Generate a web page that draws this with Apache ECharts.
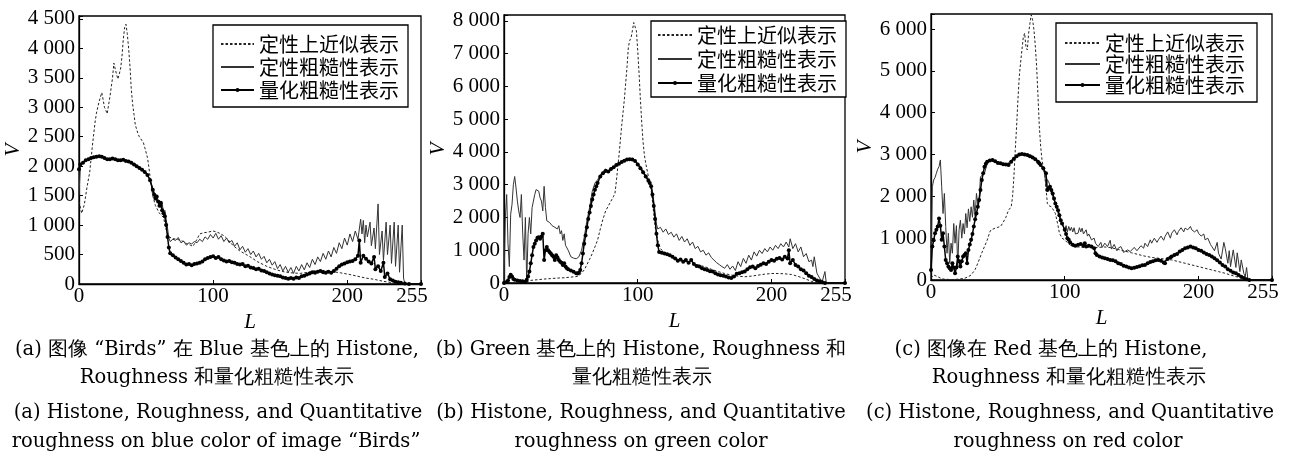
<!DOCTYPE html>
<html>
<head>
<meta charset="utf-8">
<script src="https://cdn.jsdelivr.net/npm/echarts@6/dist/echarts.min.js"></script>
<style>
html, body { margin: 0; padding: 0; background: #fff; }
#main { width: 1299px; height: 461px; }
</style>
</head>
<body>
<div id="main"></div>
<script>
// 图例名称
var names = ['定性上近似表示', '定性粗糙性表示', '量化粗糙性表示'];

// (a) Blue 数据 [L, V]
var histA = [[0,1400],[2,1200],[4,1350],[6,1650],[8,1900],[10,2350],[12,2750],[13,2900],[15,3100],[17,3250],[19,3000],[20,2950],[21,2890],[23,3170],[25,3500],[26,3750],[27,3650],[28,3560],[29,3480],[30,3450],[31,3650],[32,3850],[33,4150],[34,4350],[35,4410],[36,4250],[37,4000],[38,3700],[39,3300],[40,3050],[41,2880],[42,2700],[44,2550],[45,2500],[46,2480],[48,2400],[49,2320],[51,2150],[52,2000],[53,1820],[55,1500],[57,1330],[60,1200],[63,1130],[65,920],[67,800],[70,770],[73,760],[75,745],[78,720],[80,690],[83,660],[85,640],[88,760],[90,850],[93,870],[96,880],[100,900],[103,880],[105,860],[108,820],[110,780],[115,650],[120,560],[127,470],[133,380],[140,300],[146,250],[152,210],[158,190],[165,180],[171,200],[177,230],[183,230],[189,210],[195,190],[202,160],[208,130],[214,100],[220,80],[227,45],[233,25],[240,5],[245,0],[255,0]];
var roughA = [[0,1500],[1,2000],[2,2060],[5,2090],[8,2120],[11,2140],[14,2160],[17,2150],[20,2130],[23,2120],[26,2130],[29,2110],[32,2100],[35,2100],[38,2080],[41,2040],[44,2000],[47,1960],[50,1900],[52,1820],[54,1700],[56,1560],[57,1480],[58,1520],[59,1380],[60,1420],[61,1300],[62,1380],[63,1200],[64,1250],[65,1100],[66,950],[67,780],[68,720],[70,760],[72,740],[74,790],[76,700],[78,730],[80,660],[82,700],[84,680],[86,720],[88,700],[90,760],[92,720],[94,800],[96,760],[98,840],[100,780],[102,860],[104,760],[106,820],[108,720],[110,780],[112,700],[114,740],[116,640],[118,700],[120,580],[122,640],[124,540],[126,600],[128,500],[130,560],[132,460],[134,520],[136,420],[138,470],[140,360],[142,420],[144,320],[146,380],[148,260],[150,330],[152,220],[154,300],[156,200],[158,280],[160,180],[162,300],[164,220],[166,330],[168,240],[170,360],[172,280],[174,420],[176,330],[178,460],[180,380],[182,520],[184,420],[186,560],[188,460],[190,620],[192,520],[194,700],[196,600],[198,780],[200,660],[202,850],[204,720],[206,900],[208,760],[210,1100],[211,850],[212,1080],[213,700],[214,1000],[215,800],[217,1050],[218,650],[220,950],[221,600],[223,1360],[224,500],[226,900],[227,400],[229,1050],[230,500],[232,1000],[233,350],[235,1050],[236,300],[238,1000],[239,200],[241,1000],[242,100],[243,0],[255,0]];
var quantA = [[0,1950],[1,2030],[3,2060],[5,2100],[7,2120],[9,2140],[11,2150],[13,2160],[15,2170],[17,2160],[19,2140],[21,2120],[23,2120],[25,2130],[27,2120],[29,2100],[31,2100],[33,2110],[35,2090],[37,2080],[39,2060],[41,2030],[43,2000],[45,1970],[47,1940],[49,1900],[51,1850],[53,1760],[55,1600],[56,1520],[57,1450],[58,1480],[59,1400],[60,1330],[61,1380],[62,1250],[63,1200],[64,1150],[65,1000],[66,800],[67,620],[68,520],[70,490],[72,450],[74,420],[76,390],[78,360],[80,330],[82,340],[84,320],[86,340],[88,350],[90,360],[92,380],[94,420],[96,440],[98,460],[100,470],[102,440],[104,460],[106,420],[108,400],[110,380],[112,390],[114,370],[116,360],[118,340],[120,330],[122,340],[124,300],[126,310],[128,280],[130,270],[132,250],[134,260],[136,230],[138,220],[140,200],[142,180],[144,160],[146,150],[148,140],[150,130],[152,110],[154,100],[156,90],[158,100],[160,90],[162,110],[164,100],[166,130],[168,140],[170,160],[172,180],[174,200],[176,190],[178,210],[180,220],[182,200],[184,190],[186,210],[188,190],[190,220],[192,260],[194,300],[196,330],[198,350],[200,370],[202,380],[204,390],[206,420],[208,480],[209,740],[210,360],[212,480],[214,430],[216,380],[218,350],[220,460],[221,250],[223,300],[225,220],[227,360],[228,120],[230,180],[232,80],[234,60],[236,40],[238,30],[240,20],[243,10],[246,0],[255,0]];

// (b) Green 数据
var histB = [[0,0],[10,0],[15,0],[18,50],[20,80],[25,100],[30,120],[35,135],[40,150],[45,160],[50,180],[55,200],[58,300],[60,400],[62,560],[64,720],[66,900],[68,1100],[70,1310],[72,1650],[74,1950],[76,2200],[78,2350],[80,2500],[82,2650],[83,2740],[84,3100],[86,3900],[88,4800],[90,5600],[92,6600],[93,7200],[94,7400],[95,7480],[96,7700],[97,7950],[98,8000],[99,7700],[100,7100],[101,6400],[102,5600],[103,4900],[104,4300],[105,3900],[106,3650],[108,3250],[110,2850],[111,2500],[112,2100],[113,1720],[115,1300],[117,1050],[120,920],[125,800],[130,720],[135,660],[140,600],[145,550],[150,500],[155,420],[160,350],[165,290],[170,240],[175,210],[180,190],[185,210],[190,240],[195,270],[200,290],[205,290],[210,280],[215,260],[220,200],[225,130],[230,50],[234,0],[255,0]];
var roughB = [[0,0],[1,2000],[2,2700],[3,1200],[4,500],[5,2100],[6,2400],[7,3000],[8,3250],[9,2900],[10,2500],[11,2200],[12,2000],[13,2700],[14,1500],[15,700],[16,2000],[17,0],[18,1500],[19,2000],[20,1500],[21,2300],[22,2500],[23,2700],[24,2850],[25,2880],[26,2800],[27,2600],[28,2500],[29,2200],[30,2950],[31,2300],[32,1900],[34,1850],[36,1750],[38,1700],[40,1650],[41,1750],[42,1500],[43,1600],[44,1300],[45,1500],[46,1150],[48,1000],[50,800],[52,760],[54,740],[56,800],[58,1000],[60,1400],[62,1900],[64,2300],[66,2800],[68,3050],[70,3150],[72,3300],[74,3400],[76,3480],[78,3420],[80,3520],[82,3550],[84,3620],[86,3660],[88,3700],[90,3740],[92,3780],[94,3790],[96,3780],[98,3740],[100,3660],[102,3560],[104,3420],[106,3280],[108,3150],[110,3000],[111,2800],[112,2500],[113,2150],[114,1800],[115,1650],[117,1700],[119,1550],[121,1650],[123,1480],[125,1550],[127,1400],[129,1500],[131,1300],[133,1420],[135,1250],[137,1350],[139,1150],[141,1250],[143,1050],[145,1120],[147,950],[149,1000],[151,850],[153,920],[155,780],[157,700],[159,620],[161,560],[163,500],[165,450],[167,560],[169,420],[171,520],[173,380],[175,650],[177,500],[179,750],[181,600],[183,850],[185,700],[187,950],[189,820],[191,1000],[193,900],[195,1050],[197,950],[199,1100],[201,1000],[203,1150],[205,1050],[207,1200],[209,1100],[211,1250],[213,1100],[214,1350],[216,1050],[218,1200],[220,950],[222,1100],[224,800],[226,900],[228,650],[230,700],[231,500],[232,800],[234,300],[236,150],[238,50],[240,350],[241,0],[255,0]];
var quantB = [[0,0],[2,30],[3,80],[4,180],[5,250],[6,200],[7,120],[8,100],[10,80],[12,60],[14,50],[16,40],[17,100],[18,200],[19,350],[20,600],[21,850],[22,1100],[23,1200],[24,1300],[25,1380],[26,1400],[27,1350],[28,1420],[29,1500],[30,700],[31,1000],[32,1100],[33,1000],[34,950],[35,900],[36,850],[37,800],[38,700],[39,850],[40,780],[41,700],[42,650],[43,620],[44,550],[45,600],[46,500],[47,450],[48,420],[50,380],[52,340],[54,300],[55,290],[56,310],[57,400],[58,600],[59,900],[60,1200],[61,1450],[62,1700],[63,1950],[64,2150],[65,2350],[66,2550],[67,2700],[68,2850],[69,2950],[70,3050],[72,3250],[74,3350],[76,3420],[78,3400],[80,3480],[82,3530],[84,3600],[86,3640],[88,3690],[90,3730],[92,3770],[94,3780],[96,3770],[98,3720],[100,3620],[102,3500],[104,3380],[106,3250],[108,3120],[109,3050],[110,2950],[111,2700],[112,2350],[113,1950],[114,1500],[115,1150],[116,950],[118,920],[120,900],[122,880],[124,850],[126,800],[128,750],[130,680],[132,720],[134,650],[136,700],[138,620],[140,700],[142,580],[144,520],[146,500],[148,450],[150,420],[152,400],[154,360],[156,350],[158,300],[160,260],[162,240],[164,220],[166,200],[168,170],[170,150],[172,200],[174,280],[176,300],[178,330],[180,350],[182,420],[184,480],[186,500],[188,450],[190,520],[192,560],[194,600],[196,580],[198,650],[200,700],[202,680],[204,740],[206,760],[208,720],[210,800],[212,750],[213,1000],[214,600],[216,700],[218,550],[220,500],[222,420],[224,380],[226,300],[228,220],[230,180],[232,120],[234,80],[236,50],[238,20],[240,0],[255,0]];

// (c) Red 数据
var histC = [[0,50],[2,120],[3,160],[5,80],[8,30],[10,20],[15,10],[20,20],[25,40],[28,80],[30,120],[33,250],[35,400],[38,650],[40,800],[42,950],[44,1150],[45,1200],[48,1240],[50,1260],[52,1280],[54,1380],[56,1500],[58,1670],[60,1750],[61,2000],[62,2470],[63,3100],[64,3670],[65,4300],[66,4860],[67,5200],[68,5500],[69,5800],[70,5900],[71,5580],[72,5500],[73,5900],[74,6140],[75,6340],[76,6220],[77,5980],[78,5600],[79,5100],[80,4400],[81,3670],[82,3200],[83,2870],[84,2700],[85,2550],[86,2200],[87,1830],[88,1780],[90,1750],[92,1650],[93,1590],[95,1300],[96,1120],[98,1000],[100,960],[103,860],[106,800],[110,790],[115,780],[120,770],[125,780],[130,790],[135,770],[140,730],[145,690],[150,650],[155,610],[160,570],[165,540],[170,520],[175,500],[180,480],[185,440],[190,400],[195,360],[200,320],[205,280],[210,240],[215,200],[220,160],[225,110],[230,64],[235,16],[238,0],[255,0]];
var roughC = [[0,160],[1,2230],[2,2390],[3,2450],[4,2550],[5,2650],[6,2710],[7,2870],[8,2230],[9,1590],[10,2070],[11,1280],[12,640],[13,1120],[14,400],[15,880],[16,640],[17,1350],[18,880],[19,1300],[20,320],[21,1200],[22,1430],[23,1000],[24,1350],[25,1100],[26,1590],[27,1250],[28,1700],[29,1400],[30,1750],[31,1500],[32,1910],[33,1510],[34,2070],[35,1800],[36,1950],[37,2470],[38,2450],[40,2550],[42,2790],[44,2870],[46,2850],[48,2830],[50,2830],[52,2800],[54,2790],[56,2780],[58,2800],[60,2870],[62,2920],[64,2960],[66,3010],[68,3020],[70,3010],[72,3000],[74,2990],[76,2960],[78,2910],[80,2840],[82,2750],[84,2620],[85,2550],[86,2230],[87,2400],[88,2350],[89,2250],[90,2070],[91,2000],[92,1910],[93,1830],[94,1750],[95,1600],[96,1510],[98,1350],[100,1200],[101,1300],[102,1150],[103,1280],[104,1180],[105,1260],[106,1150],[107,1250],[108,1100],[110,1120],[111,1250],[112,1150],[113,1240],[114,1100],[116,1200],[117,1050],[118,1100],[120,960],[122,1000],[123,880],[125,800],[127,900],[128,780],[130,880],[132,800],[134,950],[135,740],[137,850],[139,700],[140,760],[142,800],[144,660],[145,640],[147,720],[149,680],[150,720],[152,780],[154,700],[155,740],[157,820],[159,760],[160,880],[162,800],[164,960],[165,880],[167,1000],[169,900],[170,960],[172,1050],[174,950],[175,1040],[177,1150],[179,1000],[180,1120],[182,1200],[184,1080],[185,1160],[187,1250],[189,1150],[190,1240],[192,1200],[194,1280],[195,1200],[197,1150],[199,1200],[200,1120],[202,1050],[204,1100],[205,960],[207,1000],[209,850],[210,800],[212,700],[214,900],[215,640],[217,500],[219,900],[220,760],[222,400],[223,700],[224,320],[226,720],[228,300],[229,650],[231,200],[232,480],[234,150],[235,80],[236,300],[237,0],[255,0]];
var quantC = [[0,240],[1,800],[2,950],[3,1120],[4,1200],[5,1280],[6,1470],[7,1300],[8,960],[9,1120],[10,800],[11,480],[12,400],[13,320],[14,280],[15,240],[16,400],[17,300],[18,160],[19,300],[20,560],[21,450],[22,320],[23,450],[24,560],[25,600],[26,640],[27,400],[28,720],[29,850],[30,960],[31,1100],[32,1280],[33,1450],[34,1590],[35,1750],[36,1910],[37,2150],[38,2390],[39,2550],[40,2710],[41,2780],[42,2830],[44,2860],[46,2870],[48,2840],[50,2800],[52,2790],[54,2770],[56,2760],[58,2750],[60,2830],[62,2900],[64,2960],[66,3000],[68,3010],[70,3000],[72,2990],[74,2960],[76,2930],[78,2890],[80,2830],[81,2790],[82,2750],[84,2670],[86,2550],[87,2150],[88,2200],[89,2230],[90,2150],[91,2070],[92,1950],[93,1830],[94,1750],[95,1670],[96,1550],[97,1430],[98,1350],[100,1200],[101,1100],[102,1000],[103,960],[104,900],[106,840],[108,820],[110,840],[112,860],[114,820],[115,880],[116,800],[118,820],[120,800],[122,760],[123,640],[124,600],[126,560],[128,540],[130,520],[132,500],[134,480],[136,470],[138,450],[140,400],[142,380],[144,340],[146,320],[148,300],[150,280],[152,290],[154,310],[156,330],[158,350],[160,360],[162,400],[164,430],[166,450],[168,470],[170,480],[172,460],[174,420],[175,400],[177,500],[179,540],[180,560],[182,600],[184,620],[186,680],[188,720],[190,760],[192,780],[194,800],[196,780],[198,760],[200,720],[202,700],[204,660],[206,620],[208,600],[210,560],[212,520],[214,470],[216,420],[218,360],[220,320],[222,260],[224,220],[226,180],[228,160],[230,120],[232,80],[234,50],[236,20],[238,0],[255,0]];

// 图注
var captions = [
  ['(a) 图像 “Birds” 在 Blue 基色上的 Histone,', 'Roughness 和量化粗糙性表示', '(a) Histone, Roughness, and Quantitative', 'roughness on blue color of image “Birds”'],
  ['(b) Green 基色上的 Histone, Roughness 和', '量化粗糙性表示', '(b) Histone, Roughness, and Quantitative', 'roughness on green color'],
  ['(c) 图像在 Red 基色上的 Histone,', 'Roughness 和量化粗糙性表示', '(c) Histone, Roughness, and Quantitative', 'roughness on red color']
];

var serif = 'Liberation Serif';

// 千位用空格分开
function fmt(v) {
  if (v < 1000) return String(v);
  var r = v % 1000;
  return Math.floor(v / 1000) + ' ' + (r < 10 ? '00' : r < 100 ? '0' : '') + r;
}

// 每个子图的布局
var panels = [
  { grid: { left: 79, top: 16, width: 342, height: 268 }, max: 4550, step: 500, vGap: 54,
    data: [histA, roughA, quantA],
    legend: { left: 213, top: 25, padding: [9, 9, 7, 7], itemGap: 3, itemWidth: 33 },
    capX: [217, 217, 218, 216] },
  { grid: { left: 504, top: 15, width: 341, height: 268 }, max: 8180, step: 1000, vGap: 50,
    data: [histB, roughB, quantB],
    legend: { left: 651, top: 21, padding: [4, 9, 4, 6], itemGap: 4, itemWidth: 34 },
    capX: [641, 642, 641, 641] },
  { grid: { left: 931, top: 14, width: 341, height: 266 }, max: 6360, step: 1000, vGap: 51,
    data: [histC, roughC, quantC],
    legend: { left: 1056, top: 23, padding: [10, 12, 7, 8], itemGap: 1, itemWidth: 35 },
    capX: [1051, 1069, 1070, 1068] }
];
var capY = [350, 378, 413, 442];

var option = { animation: false, backgroundColor: '#fff', grid: [], xAxis: [], yAxis: [], legend: [], series: [], graphic: [] };

panels.forEach(function (p, i) {
  option.grid.push(Object.assign({ show: true, borderColor: '#000', borderWidth: 1.3, containLabel: false }, p.grid));
  option.xAxis.push({
    type: 'value', gridIndex: i, min: 0, max: 255, interval: 100,
    name: 'L', nameLocation: 'middle', nameGap: 22,
    nameTextStyle: { fontFamily: serif, fontStyle: 'italic', fontSize: 21, color: '#000' },
    axisLine: { lineStyle: { color: '#000', width: 1.3 } },
    axisTick: { inside: true, length: 4, lineStyle: { color: '#000' } },
    axisLabel: {
      margin: 2, fontFamily: serif, fontSize: 21, color: '#000',
      formatter: function (v) { return v === 255 ? '{r|255}' : String(v); },
      rich: { r: { fontFamily: serif, fontSize: 21, color: '#000', padding: [0, 18, 0, 0] } }
    },
    splitLine: { show: false }
  });
  option.yAxis.push({
    type: 'value', gridIndex: i, min: 0, max: p.max, interval: p.step,
    name: 'V', nameLocation: 'middle', nameGap: p.vGap, nameRotate: 90,
    nameTextStyle: { fontFamily: serif, fontStyle: 'italic', fontSize: 21, color: '#000' },
    axisLine: { lineStyle: { color: '#000', width: 1.3 } },
    axisTick: { inside: true, length: 4, lineStyle: { color: '#000' } },
    axisLabel: {
      margin: 4, fontFamily: serif, fontSize: 21, color: '#000',
      formatter: function (v) { return v % p.step ? '' : fmt(v); }
    },
    splitLine: { show: false }
  });
  option.legend.push(Object.assign({
    orient: 'vertical',
    data: [
      { name: names[0], itemStyle: { opacity: 0 } },
      { name: names[1], itemStyle: { opacity: 0 } },
      { name: names[2] }
    ],
    itemHeight: 5,
    borderColor: '#000', borderWidth: 1.3, borderRadius: 0, backgroundColor: '#fff',
    selectedMode: false,
    textStyle: { fontFamily: 'Noto Sans CJK SC', fontSize: 20, color: '#000', lineHeight: 20 }
  }, p.legend));

  // 定性上近似表示 —— 虚线
  option.series.push({
    name: names[0], type: 'line', xAxisIndex: i, yAxisIndex: i, data: p.data[0],
    symbol: 'none', lineStyle: { color: '#222', width: 1, type: [2.5, 2] }, itemStyle: { color: '#222' }, z: 2
  });
  // 定性粗糙性表示 —— 细实线
  option.series.push({
    name: names[1], type: 'line', xAxisIndex: i, yAxisIndex: i, data: p.data[1],
    symbol: 'none', lineStyle: { color: '#333', width: 1 }, itemStyle: { color: '#333' }, z: 3
  });
  // 量化粗糙性表示 —— 带点的粗线
  option.series.push({
    name: names[2], type: 'line', xAxisIndex: i, yAxisIndex: i, data: p.data[2],
    symbol: 'circle', symbolSize: 4, showAllSymbol: true,
    lineStyle: { color: '#000', width: 1.5 }, itemStyle: { color: '#000' }, z: 4
  });

  captions[i].forEach(function (t, k) {
    option.graphic.push({
      type: 'text', silent: true,
      style: {
        text: t, x: p.capX[k], y: capY[k], align: 'center', verticalAlign: 'middle',
        fill: '#000', fontSize: 19.5, fontFamily: 'DejaVu Serif'
      }
    });
  });
});

var chart = echarts.init(document.getElementById('main'), null, { renderer: 'canvas' });
chart.setOption(option);
</script>
</body>
</html>
